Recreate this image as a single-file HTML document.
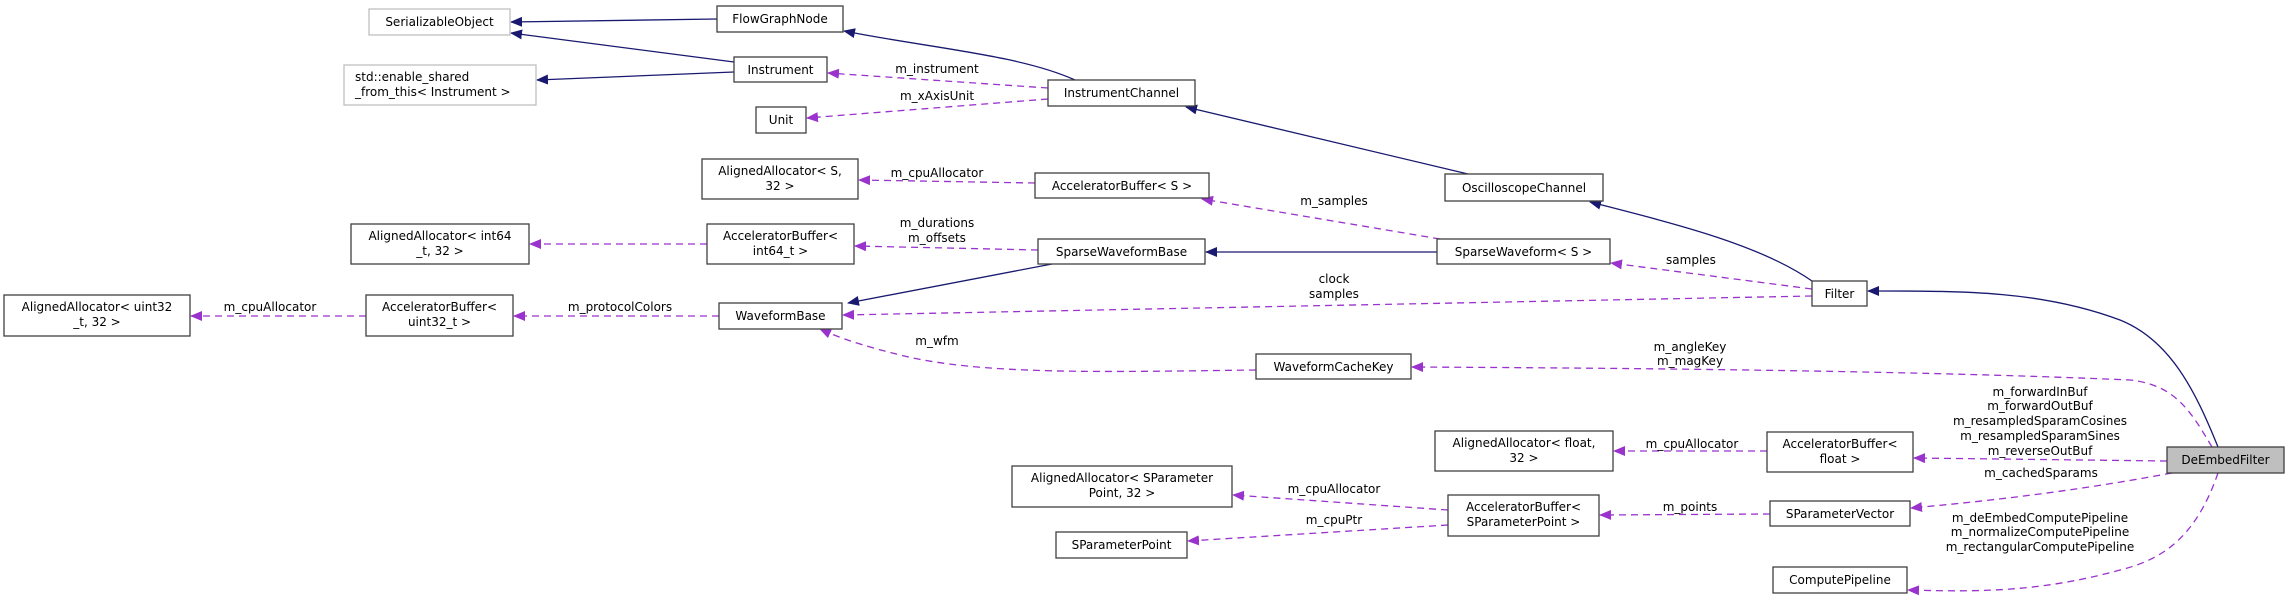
<!DOCTYPE html>
<html><head><meta charset="utf-8"><style>
html,body{margin:0;padding:0;background:#fff;}
svg{display:block;}
text{font-family:"DejaVu Sans","Liberation Sans",sans-serif;font-size:12px;fill:#000;}
.b{fill:#fff;stroke:#404040;stroke-width:1.3;}
.g{fill:#fff;stroke:#bfbfbf;stroke-width:1.3;}
.n{fill:none;stroke:#191970;stroke-width:1.3;}
.p{fill:none;stroke:#9a32cd;stroke-width:1.3;stroke-dasharray:7,5;}
</style></head><body>
<svg width="2289" height="599" viewBox="0 0 2289 599" xmlns="http://www.w3.org/2000/svg">
<defs>
<marker id="an" markerWidth="12" markerHeight="10" refX="11" refY="5" orient="auto" markerUnits="userSpaceOnUse"><path d="M0,0 L12,5 L0,10 z" fill="#191970"/></marker>
<marker id="ap" markerWidth="12" markerHeight="10" refX="11" refY="5" orient="auto" markerUnits="userSpaceOnUse"><path d="M0,0 L12,5 L0,10 z" fill="#9a32cd"/></marker>
</defs>

<!-- navy edges -->
<path class="n" marker-end="url(#an)" d="M717,19 L511,22"/>
<path class="n" marker-end="url(#an)" d="M734,62 L511,33"/>
<path class="n" marker-end="url(#an)" d="M734,72 L537,80"/>
<path class="n" marker-end="url(#an)" d="M1075,80 C1020,55 930,48 844,31"/>
<path class="n" marker-end="url(#an)" d="M1468,174 L1186,107"/>
<path class="n" marker-end="url(#an)" d="M1812,281 C1760,245 1680,225 1590,202"/>
<path class="n" marker-end="url(#an)" d="M1437,252 L1206,252"/>
<path class="n" marker-end="url(#an)" d="M1052,264 L848,303"/>
<path class="n" marker-end="url(#an)" d="M2218,447 C2195,390 2170,340 2120,320 C2040,290 1960,291 1868,291"/>

<!-- purple edges -->
<path class="p" marker-end="url(#ap)" d="M1048,88 L828,73"/>
<path class="p" marker-end="url(#ap)" d="M1048,99 L807,118"/>
<path class="p" marker-end="url(#ap)" d="M1035,183 L859,180"/>
<path class="p" marker-end="url(#ap)" d="M1440,239 L1202,199"/>
<path class="p" marker-end="url(#ap)" d="M1038,250 L855,246"/>
<path class="p" marker-end="url(#ap)" d="M707,244 L530,244"/>
<path class="p" marker-end="url(#ap)" d="M1812,289 L1611,263"/>
<path class="p" marker-end="url(#ap)" d="M1812,296 L843,315"/>
<path class="p" marker-end="url(#ap)" d="M366,316 L191,316"/>
<path class="p" marker-end="url(#ap)" d="M719,316 L514,316"/>
<path class="p" marker-end="url(#ap)" d="M1256,370 C1100,372 980,375 900,355 C860,345 840,338 820,329"/>
<path class="p" marker-end="url(#ap)" d="M2212,447 C2190,410 2175,385 2130,380 C1900,370 1600,368 1412,367"/>
<path class="p" marker-end="url(#ap)" d="M2167,461 L1914,458"/>
<path class="p" marker-end="url(#ap)" d="M1767,451 L1614,451"/>
<path class="p" marker-end="url(#ap)" d="M2172,473 C2080,490 2000,500 1911,508"/>
<path class="p" marker-end="url(#ap)" d="M1770,514 L1600,515"/>
<path class="p" marker-end="url(#ap)" d="M1448,510 L1233,495"/>
<path class="p" marker-end="url(#ap)" d="M1448,525 L1188,541"/>
<path class="p" marker-end="url(#ap)" d="M2218,473 C2195,540 2160,560 2120,570 C2040,592 1980,592 1908,590"/>

<!-- boxes -->
<rect class="g" x="369" y="9" width="141" height="26"/><text x="439.5" y="26" text-anchor="middle" fill="#000">SerializableObject</text>
<rect class="g" x="344" y="65" width="192" height="40"/><text x="355" y="81">std::enable_shared</text><text x="355" y="96">_from_this&lt; Instrument &gt;</text>
<rect class="b" x="717" y="6" width="126" height="26"/><text x="780" y="23" text-anchor="middle">FlowGraphNode</text>
<rect class="b" x="734" y="57" width="93" height="25"/><text x="780.5" y="74" text-anchor="middle">Instrument</text>
<rect class="b" x="756" y="107" width="50" height="26"/><text x="781" y="124" text-anchor="middle">Unit</text>
<rect class="b" x="1048" y="80" width="147" height="26"/><text x="1121.5" y="97" text-anchor="middle">InstrumentChannel</text>
<rect class="b" x="702" y="159" width="156" height="40"/><text x="780" y="175" text-anchor="middle">AlignedAllocator&lt; S,</text><text x="780" y="190" text-anchor="middle">32 &gt;</text>
<rect class="b" x="1035" y="173" width="174" height="25"/><text x="1122" y="190" text-anchor="middle">AcceleratorBuffer&lt; S &gt;</text>
<rect class="b" x="1445" y="174" width="158" height="27"/><text x="1524" y="192" text-anchor="middle">OscilloscopeChannel</text>
<rect class="b" x="351" y="224" width="178" height="40"/><text x="440" y="240" text-anchor="middle">AlignedAllocator&lt; int64</text><text x="440" y="255" text-anchor="middle">_t, 32 &gt;</text>
<rect class="b" x="707" y="224" width="147" height="40"/><text x="780.5" y="240" text-anchor="middle">AcceleratorBuffer&lt;</text><text x="780.5" y="255" text-anchor="middle">int64_t &gt;</text>
<rect class="b" x="1038" y="239" width="167" height="25"/><text x="1121.5" y="256" text-anchor="middle">SparseWaveformBase</text>
<rect class="b" x="1437" y="239" width="173" height="25"/><text x="1523.5" y="256" text-anchor="middle">SparseWaveform&lt; S &gt;</text>
<rect class="b" x="1812" y="281" width="55" height="25"/><text x="1839.5" y="298" text-anchor="middle">Filter</text>
<rect class="b" x="4" y="295" width="186" height="41"/><text x="97" y="311" text-anchor="middle">AlignedAllocator&lt; uint32</text><text x="97" y="326" text-anchor="middle">_t, 32 &gt;</text>
<rect class="b" x="366" y="295" width="147" height="41"/><text x="439.5" y="311" text-anchor="middle">AcceleratorBuffer&lt;</text><text x="439.5" y="326" text-anchor="middle">uint32_t &gt;</text>
<rect class="b" x="719" y="303" width="123" height="26"/><text x="780.5" y="320" text-anchor="middle">WaveformBase</text>
<rect class="b" x="1256" y="354" width="155" height="25"/><text x="1333.5" y="371" text-anchor="middle">WaveformCacheKey</text>
<rect class="b" x="1435" y="431" width="178" height="40"/><text x="1524" y="447" text-anchor="middle">AlignedAllocator&lt; float,</text><text x="1524" y="462" text-anchor="middle">32 &gt;</text>
<rect class="b" x="1767" y="432" width="146" height="40"/><text x="1840" y="448" text-anchor="middle">AcceleratorBuffer&lt;</text><text x="1840" y="463" text-anchor="middle">float &gt;</text>
<rect x="2167" y="447" width="117" height="26" fill="#bfbfbf" stroke="#404040" stroke-width="1.3"/><text x="2225.5" y="464" text-anchor="middle">DeEmbedFilter</text>
<rect class="b" x="1012" y="466" width="220" height="41"/><text x="1122" y="482" text-anchor="middle">AlignedAllocator&lt; SParameter</text><text x="1122" y="497" text-anchor="middle">Point, 32 &gt;</text>
<rect class="b" x="1448" y="495" width="151" height="41"/><text x="1523.5" y="511" text-anchor="middle">AcceleratorBuffer&lt;</text><text x="1523.5" y="526" text-anchor="middle">SParameterPoint &gt;</text>
<rect class="b" x="1770" y="501" width="140" height="25"/><text x="1840" y="518" text-anchor="middle">SParameterVector</text>
<rect class="b" x="1056" y="532" width="131" height="26"/><text x="1121.5" y="549" text-anchor="middle">SParameterPoint</text>
<rect class="b" x="1773" y="567" width="134" height="26"/><text x="1840" y="584" text-anchor="middle">ComputePipeline</text>

<!-- labels -->
<g text-anchor="middle">
<text x="937" y="73">m_instrument</text>
<text x="937" y="100">m_xAxisUnit</text>
<text x="937" y="177">m_cpuAllocator</text>
<text x="1334" y="205">m_samples</text>
<text x="937" y="227">m_durations</text>
<text x="937" y="242">m_offsets</text>
<text x="270" y="311">m_cpuAllocator</text>
<text x="620" y="311">m_protocolColors</text>
<text x="1334" y="283">clock</text>
<text x="1334" y="298">samples</text>
<text x="1691" y="264">samples</text>
<text x="937" y="345">m_wfm</text>
<text x="1690" y="351">m_angleKey</text>
<text x="1690" y="365">m_magKey</text>
<text x="2040" y="396">m_forwardInBuf</text>
<text x="2040" y="410">m_forwardOutBuf</text>
<text x="2040" y="425">m_resampledSparamCosines</text>
<text x="2040" y="440">m_resampledSparamSines</text>
<text x="2040" y="455">m_reverseOutBuf</text>
<text x="2041" y="477">m_cachedSparams</text>
<text x="1692" y="448">m_cpuAllocator</text>
<text x="1690" y="511">m_points</text>
<text x="1334" y="493">m_cpuAllocator</text>
<text x="1334" y="524">m_cpuPtr</text>
<text x="2040" y="522">m_deEmbedComputePipeline</text>
<text x="2040" y="536">m_normalizeComputePipeline</text>
<text x="2040" y="551">m_rectangularComputePipeline</text>
</g>
</svg>
</body></html>
